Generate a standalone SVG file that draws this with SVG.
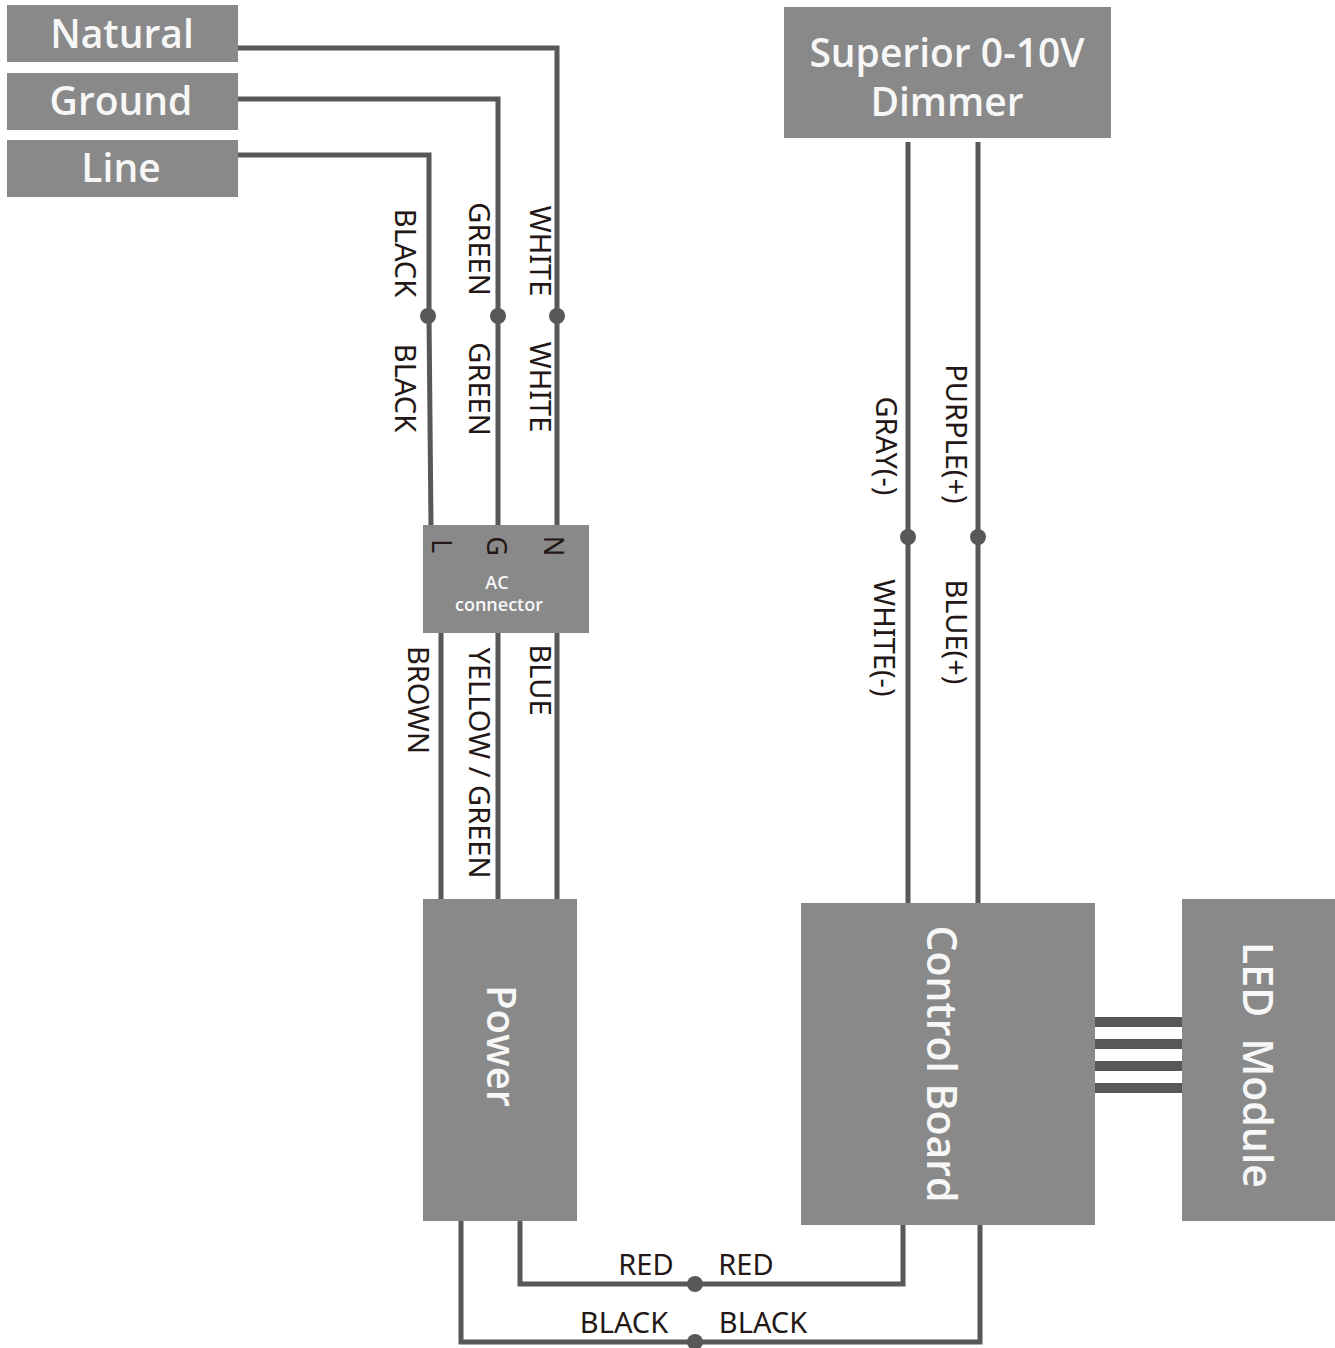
<svg xmlns="http://www.w3.org/2000/svg" width="1335" height="1348" viewBox="0 0 1335 1348">
<style>
.box{fill:#898989}
.wire{fill:none;stroke:#595757;stroke-width:5;stroke-linejoin:miter}
.dot{fill:#595757}
.title{font-family:"Open Sans","Noto Sans",sans-serif;font-weight:600;fill:#f7f7f7;text-anchor:middle}
.lbl{font-family:"Noto Sans","Liberation Sans",sans-serif;font-size:29px;fill:#231815;text-anchor:middle}
.bar{fill:#595757}
</style>
<rect width="1335" height="1348" fill="#ffffff"/>
<g id="connectors">
<polyline class="wire" points="238,48 557,48 557,525"/>
<polyline class="wire" points="238,99 498,99 498,525"/>
<polyline class="wire" points="238,155 429,155 429,316 431,525"/>
<line class="wire" x1="441" y1="633" x2="441" y2="899"/>
<line class="wire" x1="498" y1="633" x2="498" y2="899"/>
<line class="wire" x1="557" y1="633" x2="557" y2="899"/>
<line class="wire" x1="908" y1="142" x2="908" y2="903"/>
<line class="wire" x1="978" y1="142" x2="978" y2="903"/>
<polyline class="wire" points="520,1217 520,1284 903,1284 903,1225"/>
<polyline class="wire" points="461,1221 461,1342 980,1342 980,1225"/>
<rect class="bar" x="1095" y="1017" width="87" height="10"/>
<rect class="bar" x="1095" y="1039" width="87" height="10"/>
<rect class="bar" x="1095" y="1061" width="87" height="10"/>
<rect class="bar" x="1095" y="1083" width="87" height="10"/>
<circle class="dot" cx="428" cy="316" r="8"/>
<circle class="dot" cx="498" cy="316" r="8"/>
<circle class="dot" cx="557" cy="316" r="8"/>
<circle class="dot" cx="908" cy="537" r="8"/>
<circle class="dot" cx="978" cy="537" r="8"/>
<circle class="dot" cx="695" cy="1284" r="8"/>
<circle class="dot" cx="695" cy="1342" r="8"/>
<g class="lbl">
<text transform="translate(395,253) rotate(90)">BLACK</text>
<text transform="translate(395,388) rotate(90)">BLACK</text>
<text transform="translate(469,249) rotate(90)">GREEN</text>
<text transform="translate(469,389) rotate(90)">GREEN</text>
<text transform="translate(530,251) rotate(90)">WHITE</text>
<text transform="translate(530,387) rotate(90)">WHITE</text>
<text transform="translate(408,700) rotate(90)">BROWN</text>
<text transform="translate(469,763) rotate(90)">YELLOW / GREEN</text>
<text transform="translate(530,680) rotate(90)">BLUE</text>
<text transform="translate(876,446) rotate(90)">GRAY(-)</text>
<text transform="translate(946,434) rotate(90)">PURPLE(+)</text>
<text transform="translate(874,638) rotate(90)">WHITE(-)</text>
<text transform="translate(946,632) rotate(90)">BLUE(+)</text>
<text x="646" y="1275">RED</text>
<text x="746" y="1275">RED</text>
<text x="624" y="1333">BLACK</text>
<text x="763" y="1333">BLACK</text>
</g>
</g>
<g id="natural"><rect class="box" x="7" y="5" width="231" height="57"/><text class="title" x="122" y="48" font-size="39">Natural</text></g>
<g id="ground"><rect class="box" x="7" y="73" width="231" height="57"/><text class="title" x="121" y="115" font-size="39">Ground</text></g>
<g id="line"><rect class="box" x="7" y="140" width="231" height="57"/><text class="title" x="121" y="182" font-size="39">Line</text></g>
<g id="dimmer"><rect class="box" x="784" y="7" width="327" height="131"/><text class="title" x="947" y="67" font-size="39">Superior 0-10V</text><text class="title" x="947" y="116" font-size="39">Dimmer</text></g>
<g id="ac-connector"><rect class="box" x="423" y="525" width="166" height="108"/>
<g class="lbl" style="font-size:27px"><text transform="translate(432,546) rotate(90)">L</text><text transform="translate(487,546) rotate(90)">G</text><text transform="translate(544,546) rotate(90)">N</text></g>
<text class="title" x="497" y="589" font-size="18">AC</text><text class="title" x="499" y="611" font-size="18">connector</text></g>
<g id="power"><rect class="box" x="423" y="899" width="154" height="322"/><text class="title" font-size="40" transform="translate(487,1046) rotate(90)">Power</text></g>
<g id="control-board"><rect class="box" x="801" y="903" width="294" height="322"/><text class="title" font-size="41" transform="translate(927,1064) rotate(90)">Control Board</text></g>
<g id="led-module"><rect class="box" x="1182" y="899" width="153" height="322"/><text class="title" font-size="41" transform="translate(1243,1065) rotate(90)" xml:space="preserve">LED  Module</text></g>
</svg>
